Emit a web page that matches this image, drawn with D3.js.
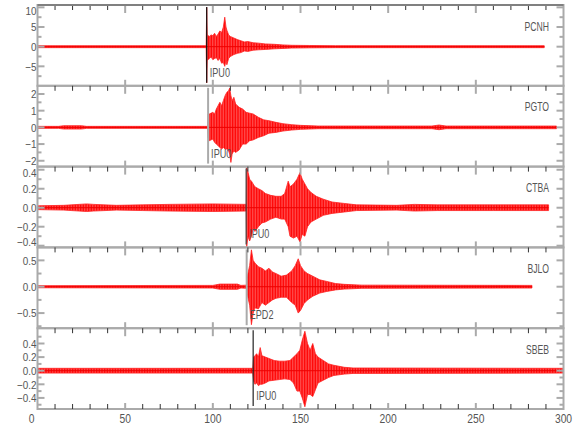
<!DOCTYPE html>
<html><head><meta charset="utf-8">
<script src="https://cdn.jsdelivr.net/npm/d3@7"></script>
<style>
html,body{margin:0;padding:0;background:#fff;}
svg text{font-family:'Liberation Sans',Arial,sans-serif;}
</style></head>
<body><svg id="c" width="580" height="440"></svg>
<script>
// ---------- data ----------
const stations = ["PCNH", "PGTO", "CTBA", "BJLO", "SBEB"];
const pickTimes = [96.5, 97.3, 119.0, 119.3, 123.0];
const pickLabels = ["IPU0", "IPU0", "IPU0", "EPD2", "IPU0"];
const pickColors = ["#111", "#aaa", "#444", "#aaa", "#222"];
const yDomains = [[-9.95, 10.6], [-2.35, 2.49], [-0.418, 0.433], [-0.787, 0.746], [-0.563, 0.625]];
const yMajor = [[-5, 0, 5, 10], [-2, -1, 0, 1, 2], [-0.4, -0.2, 0, 0.2, 0.4], [-0.5, 0, 0.5], [-0.4, -0.2, 0, 0.2, 0.4]];
const yMinor = [[-7.5, -2.5, 2.5, 7.5], [-1.5, -0.5, 0.5, 1.5], [-0.3, -0.1, 0.1, 0.3], [-0.75, -0.25, 0.25], [-0.5, -0.3, -0.1, 0.1, 0.3, 0.5]];
const yFormats = ["d", "d", ".1f", ".1f", ".1f"];
const xMajor = [0, 50, 100, 150, 200, 250, 300];
const xMinor = [10, 20, 30, 40, 60, 70, 80, 90, 110, 120, 130, 140, 160, 170, 180, 190, 210, 220, 230, 240, 260, 270, 280, 290];

// envelopes: [time s, upper, lower]
const pcnhEnv = [[0,0.25,-0.25],[96.2,0.25,-0.25],[96.5,10,-9.2],[96.8,3,-3.5],[98,2.6,-3],[99,3,-2.6],[100,2.8,-3.3],[101,3.4,-3],[102,2.6,-2.8],[103,3.2,-3.5],[104,4,-3],[105,3.6,-4.2],[106,5,-4],[106.8,7.5,-5],[107.5,5,-3.6],[108,4.2,-4.6],[109,3,-3],[110,2.6,-2.5],[112,2.2,-2],[114,1.8,-1.7],[116,1.5,-1.5],[118,1.2,-1.1],[120,1.3,-1.2],[123,1,-0.9],[126,0.9,-0.8],[130,0.7,-0.7],[135,0.6,-0.55],[140,0.45,-0.45],[145,0.35,-0.35],[155,0.3,-0.3],[170,0.25,-0.25],[289,0.25,-0.25]];
const pgtoEnv = [[0,0.06,-0.06],[12,0.06,-0.06],[15,0.1,-0.1],[25,0.1,-0.1],[28,0.06,-0.06],[97.1,0.06,-0.06],[97.3,0.8,-0.6],[98,0.8,-0.8],[100,0.9,-0.7],[101,0.8,-0.9],[102,1.1,-1],[103,1.3,-1.1],[104,1.5,-1.2],[105,1.3,-1.3],[106,1.6,-1.2],[107,1.9,-1.3],[108,2.1,-1.3],[109,2.2,-1.4],[109.6,2.35,-1.6],[110.3,1.9,-2.1],[111,1.6,-1.6],[112,1.8,-1.4],[113,1.4,-1.5],[115,1.2,-1.35],[117,1.1,-1],[119,0.9,-1],[121,0.85,-0.8],[123,0.8,-0.75],[126,0.6,-0.6],[129,0.45,-0.5],[132,0.4,-0.35],[136,0.3,-0.3],[140,0.22,-0.22],[145,0.16,-0.16],[150,0.12,-0.12],[160,0.08,-0.08],[225,0.08,-0.08],[229,0.14,-0.14],[233,0.08,-0.08],[296,0.08,-0.08]];
const ctbaEnv = [[0,0.02,-0.02],[15,0.025,-0.025],[28,0.04,-0.04],[32,0.035,-0.035],[45,0.025,-0.025],[60,0.03,-0.03],[75,0.035,-0.035],[100,0.04,-0.04],[119.1,0.035,-0.035],[119.3,0.42,-0.42],[120,0.38,-0.3],[121,0.3,-0.35],[122,0.28,-0.3],[123,0.25,-0.22],[124,0.22,-0.25],[126,0.2,-0.2],[128,0.18,-0.16],[130,0.15,-0.15],[133,0.13,-0.12],[136,0.12,-0.1],[139,0.12,-0.12],[141,0.15,-0.12],[143,0.28,-0.2],[144,0.22,-0.3],[146,0.25,-0.32],[148,0.3,-0.3],[149.7,0.37,-0.36],[151,0.3,-0.28],[152.5,0.25,-0.3],[154,0.2,-0.2],[156,0.16,-0.15],[159,0.12,-0.12],[163,0.09,-0.08],[168,0.06,-0.06],[175,0.045,-0.045],[182,0.03,-0.03],[205,0.025,-0.025],[215,0.035,-0.035],[228,0.03,-0.03],[260,0.03,-0.03],[291.5,0.03,-0.03]];
const bjloEnv = [[0,0.02,-0.02],[100,0.025,-0.025],[104,0.05,-0.05],[114,0.05,-0.05],[116,0.025,-0.025],[119.3,0.03,-0.03],[120,0.25,-0.2],[121,0.4,-0.35],[122,0.7,-0.72],[123,0.5,-0.5],[124,0.45,-0.4],[126,0.38,-0.42],[128,0.35,-0.3],[130,0.3,-0.35],[132,0.35,-0.3],[134,0.28,-0.25],[136,0.25,-0.22],[139,0.2,-0.2],[142,0.22,-0.2],[145,0.3,-0.3],[147,0.4,-0.35],[148.7,0.53,-0.5],[150,0.4,-0.45],[152,0.3,-0.32],[154,0.25,-0.25],[157,0.2,-0.18],[161,0.13,-0.12],[165,0.1,-0.09],[170,0.06,-0.06],[175,0.045,-0.045],[185,0.03,-0.03],[282,0.025,-0.025]];
const sbebEnv = [[0,0.035,-0.035],[122.8,0.035,-0.035],[123.3,0.2,-0.15],[124,0.22,-0.2],[125,0.25,-0.18],[126,0.2,-0.22],[127,0.34,-0.2],[128,0.22,-0.2],[130,0.2,-0.18],[132,0.18,-0.15],[135,0.15,-0.14],[138,0.14,-0.13],[141,0.14,-0.12],[144,0.15,-0.13],[146,0.2,-0.18],[148,0.25,-0.3],[149.6,0.3,-0.3],[151,0.45,-0.4],[152.5,0.58,-0.53],[154,0.4,-0.35],[155.5,0.3,-0.35],[157,0.4,-0.38],[158.5,0.25,-0.28],[160,0.2,-0.18],[163,0.15,-0.14],[166,0.1,-0.1],[169,0.08,-0.07],[175,0.05,-0.05],[180,0.04,-0.04],[300,0.035,-0.035]];
const envelopes = [pcnhEnv, pgtoEnv, ctbaEnv, bjloEnv, sbebEnv];

// ---------- layout ----------
const svg = d3.select("#c");
const defs = svg.append("defs");
const pat = defs.append("pattern").attr("id", "trace").attr("patternUnits", "userSpaceOnUse")
  .attr("width", 1.6).attr("height", 4);
pat.append("rect").attr("width", 1.6).attr("height", 4).attr("fill", "#ff5c5c");
pat.append("rect").attr("width", 0.9).attr("height", 4).attr("fill", "#ff0000");

const top0 = 5, panelH = 80.8;
const x = d3.scaleLinear().domain([0, 300]).range([37.5, 563.5]);
const frameCol = "#aaa";

function ntext(g, px, py, str, anchor, sx, size) {
  return g.append("text").attr("transform", `translate(${px},${py}) scale(${sx},1)`)
    .attr("text-anchor", anchor).attr("font-size", size).attr("fill", "#555").text(str);
}

stations.forEach((name, i) => {
  const t = top0 + i * panelH, b = t + panelH;
  const y = d3.scaleLinear().domain(yDomains[i]).range([b, t]);
  const g = svg.append("g");
  const cid = "clip" + i;
  defs.append("clipPath").attr("id", cid).append("rect")
    .attr("x", x(0)).attr("y", t).attr("width", x(300) - x(0)).attr("height", panelH);

  const env = envelopes[i];
  const area = d3.area().x(d => x(d[0])).y0(d => y(d[2])).y1(d => y(d[1]));
  g.append("path").datum(env).attr("clip-path", `url(#${cid})`)
    .attr("d", area).attr("fill", "url(#trace)")
    .attr("stroke", "#ff2020").attr("stroke-width", 0.8).attr("stroke-linejoin", "miter");
  g.append("line").attr("x1", x(env[0][0])).attr("x2", x(env[env.length - 1][0]))
    .attr("y1", y(0)).attr("y2", y(0)).attr("stroke", "#ee0000").attr("stroke-width", 1);

  g.append("line").attr("x1", x(pickTimes[i])).attr("x2", x(pickTimes[i]))
    .attr("y1", t + 2).attr("y2", b - 3)
    .attr("stroke", pickColors[i]).attr("stroke-width", pickColors[i] === "#aaa" ? 2 : 1.2);
  ntext(g, x(pickTimes[i]) + 3, b - 9, pickLabels[i], "start", 0.76, 12);

  ntext(g, 549, t + 25.5, name, "end", 0.72, 12);

  g.append("rect").attr("x", x(0)).attr("y", t).attr("width", x(300) - x(0)).attr("height", panelH)
    .attr("fill", "none").attr("stroke", frameCol).attr("stroke-width", 2);

  g.selectAll(".tmin").data(xMinor).join("line")
    .attr("x1", d => x(d)).attr("x2", d => x(d)).attr("y1", t).attr("y2", t + 5)
    .attr("stroke", "#333").attr("stroke-width", 1);
  g.selectAll(".tmaj").data(xMajor.slice(1, -1)).join("line")
    .attr("x1", d => x(d)).attr("x2", d => x(d)).attr("y1", t).attr("y2", t + 8)
    .attr("stroke", frameCol).attr("stroke-width", 2);
  g.selectAll(".bmaj").data(xMajor.slice(1, -1)).join("line")
    .attr("x1", d => x(d)).attr("x2", d => x(d)).attr("y1", b).attr("y2", b - 6)
    .attr("stroke", frameCol).attr("stroke-width", 2);
  if (i === stations.length - 1) {
    g.selectAll(".bmin").data(xMinor).join("line")
      .attr("x1", d => x(d)).attr("x2", d => x(d)).attr("y1", b).attr("y2", b - 5)
      .attr("stroke", "#333").attr("stroke-width", 1);
  }

  const yt = yMajor[i].filter(v => y(v) >= t - 1 && y(v) <= b + 1);
  const ym = yMinor[i].filter(v => y(v) >= t && y(v) <= b);
  [[x(0), 1], [x(300), -1]].forEach(([xx, dir]) => {
    g.selectAll(null).data(yt).join("line")
      .attr("x1", xx).attr("x2", xx + dir * 7).attr("y1", d => y(d)).attr("y2", d => y(d))
      .attr("stroke", frameCol).attr("stroke-width", 2);
    g.selectAll(null).data(ym).join("line")
      .attr("x1", xx).attr("x2", xx + dir * 4).attr("y1", d => y(d)).attr("y2", d => y(d))
      .attr("stroke", frameCol).attr("stroke-width", 2);
  });
  const fmt = d3.format(yFormats[i]);
  yMajor[i].filter(v => y(v) >= t - 2 && y(v) <= b + 2).forEach(v => {
    const yy = Math.max(t + 6, Math.min(b - 6, y(v)));
    ntext(g, 36.5, yy + 4.2, fmt(v).replace("-", "\u2212"), "end", 0.86, 11.5);
  });
});

svg.append("line").attr("x1", x(0)).attr("x2", x(300)).attr("y1", top0).attr("y2", top0)
  .attr("stroke", "#808080").attr("stroke-width", 2);

const bottom = top0 + 5 * panelH;
const xg = svg.append("g");
xMajor.forEach(v => ntext(xg, x(v) + (v === 0 ? -6 : 0), bottom + 13.5, String(v), "middle", 0.86, 12));
</script></body></html>
